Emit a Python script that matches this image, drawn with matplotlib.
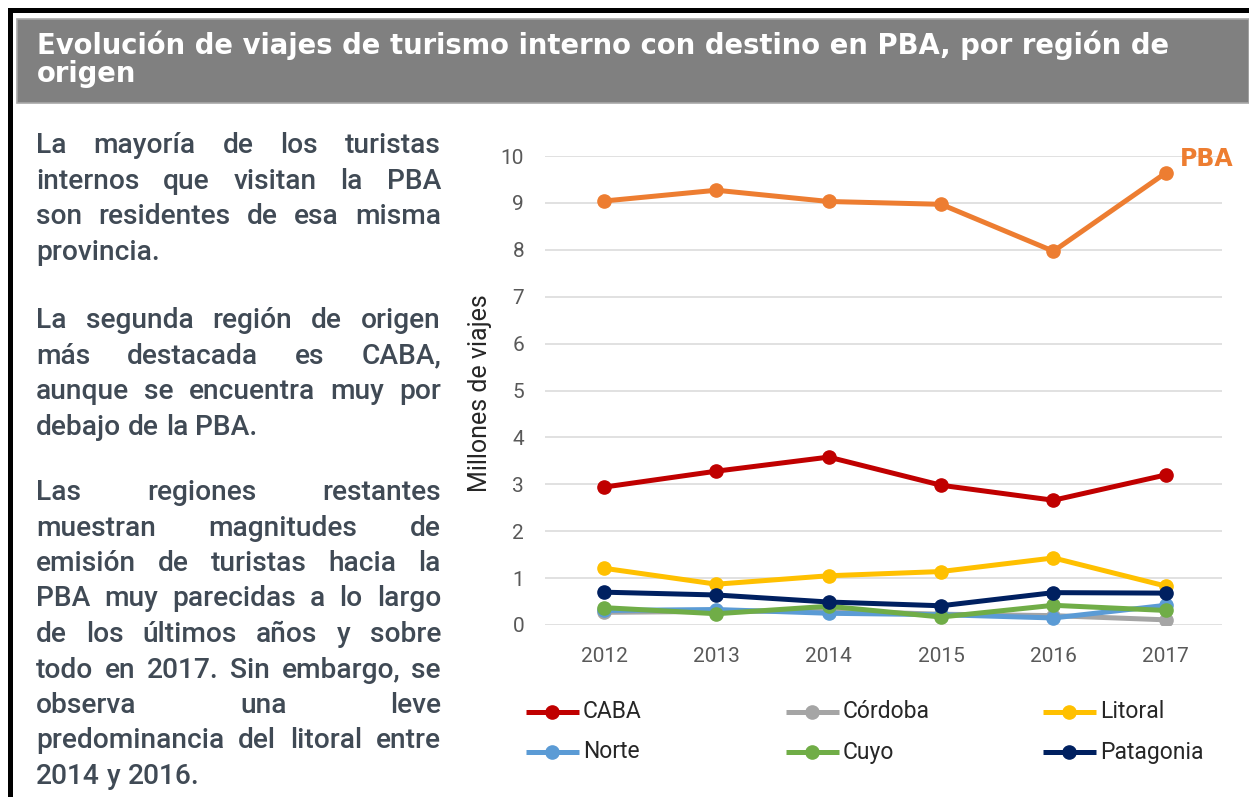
import matplotlib
matplotlib.use("Agg")
import matplotlib.pyplot as plt
from matplotlib.patches import Rectangle

# ---------------- data ----------------
years = ["2012", "2013", "2014", "2015", "2016", "2017"]
pba = [9.04, 9.27, 9.03, 8.97, 7.97, 9.64]
caba = [2.94, 3.28, 3.58, 2.98, 2.66, 3.20]
cordoba = [0.27, 0.29, 0.30, 0.23, 0.20, 0.11]
litoral = [1.21, 0.87, 1.05, 1.14, 1.43, 0.83]
norte = [0.31, 0.33, 0.25, 0.22, 0.15, 0.42]
cuyo = [0.37, 0.24, 0.40, 0.17, 0.42, 0.31]
patagonia = [0.70, 0.64, 0.49, 0.41, 0.69, 0.68]
yticks = list(range(0, 11))

series_names = ["CABA", "Córdoba", "Litoral", "Norte", "Cuyo", "Patagonia"]
series_vals = [caba, cordoba, litoral, norte, cuyo, patagonia]
series_cols = ["#C00000", "#A5A5A5", "#FFC000", "#5B9BD5", "#70AD47", "#002060"]
pba_color = "#ED7D31"

title = "Evolución de viajes de turismo interno con destino en PBA, por región de\norigen"
paragraphs = [
    ["La mayoría de los turistas",
     "internos que visitan la PBA",
     "son residentes de esa misma",
     "provincia."],
    ["La segunda región de origen",
     "más destacada es CABA,",
     "aunque se encuentra muy por",
     "debajo de la PBA."],
    ["Las regiones restantes",
     "muestran magnitudes de",
     "emisión de turistas hacia la",
     "PBA muy parecidas a lo largo",
     "de los últimos años y sobre",
     "todo en 2017. Sin embargo, se",
     "observa una leve",
     "predominancia del litoral entre",
     "2014 y 2016."],
]

# ---------------- figure ----------------
W, H = 1249, 797
fig = plt.figure(figsize=(W / 100, H / 100), dpi=100)
fig.patch.set_facecolor("white")

bg = fig.add_axes([0, 0, 1, 1])
bg.set_xlim(0, W)
bg.set_ylim(H, 0)
bg.axis("off")

# borders and title band
bg.add_patch(Rectangle((8, 8), W - 8, 4.5, color="black", lw=0))
bg.add_patch(Rectangle((8, 8), 5, H - 8, color="black", lw=0))
bg.add_patch(Rectangle((17, 19), W - 17, 84, facecolor="#808080",
                       edgecolor="#a8a8a8", lw=1.2))

renderer = fig.canvas.get_renderer()


def text_width(s, **kw):
    t = bg.text(0, 0, s, **kw)
    w = t.get_window_extent(renderer).width
    t.remove()
    return w


# title
tfont = dict(family="DejaVu Sans", weight="bold", color="white")
first_line = title.split("\n")[0]
tsize = 17 * 1138 / text_width(first_line, fontsize=17, **tfont)
for i, line in enumerate(title.split("\n")):
    bg.text(37, 54 + 28 * i, line, fontsize=tsize, va="baseline", ha="left", **tfont)

# body text, justified
bfont = dict(family="Roboto", weight="medium", color="#404a55")
bsize = 20 * 124 / text_width("provincia.", fontsize=20, **bfont)
L, R = 36, 441
space_w = text_width("a a", fontsize=bsize, **bfont) - 2 * text_width("a", fontsize=bsize, **bfont)
par_starts = [153, 328, 500]
lstep = 35.5
for p, lines in enumerate(paragraphs):
    for k, line in enumerate(lines):
        y = par_starts[p] + lstep * k
        words = line.split(" ")
        widths = [text_width(w, fontsize=bsize, **bfont) for w in words]
        last = (k == len(lines) - 1)
        if last or len(words) == 1:
            gap = space_w
        else:
            gap = (R - L - sum(widths)) / (len(words) - 1)
        x = L
        for w, wd in zip(words, widths):
            bg.text(x, y, w, fontsize=bsize, ha="left", va="baseline", **bfont)
            x += wd + gap

# ---------------- chart ----------------
ax_l, ax_r, ax_t, ax_b = 545, 1222, 156, 625
ax = fig.add_axes([ax_l / W, (H - ax_b) / H, (ax_r - ax_l) / W, (ax_b - ax_t) / H])
ax.set_facecolor("none")
x = list(range(len(years)))
for name, vals, col in zip(series_names, series_vals, series_cols):
    ax.plot(x, vals, color=col, lw=3.6, marker="o", ms=9.5, solid_capstyle="round",
            label=name, zorder=3)
ax.plot(x, pba, color=pba_color, lw=3.6, marker="o", ms=9.5, zorder=3)
ax.annotate("PBA", xy=(x[-1], pba[-1]), xytext=(14, 14), textcoords="offset pixels",
            ha="left", va="center", fontsize=17, fontweight="bold",
            family="DejaVu Sans", color=pba_color)

ax.set_xlim(-0.525, 5.5)
ax.set_ylim(0, 10)
ax.set_yticks(yticks)
ax.set_xticks(x)
ax.set_xticklabels(years)
ax.tick_params(axis="both", length=0, labelsize=15, labelcolor="#595959")
ax.tick_params(axis="y", pad=15)
ax.tick_params(axis="x", pad=16)
for lab in ax.get_xticklabels() + ax.get_yticklabels():
    lab.set_family("Roboto")
ax.grid(axis="y", color="#d9d9d9", lw=1.1, zorder=0)
ax.set_axisbelow(True)
for s in ax.spines.values():
    s.set_visible(False)
ax.set_ylabel("Millones de viajes", fontsize=18, family="Roboto", color="#262626")
ax.yaxis.set_label_coords((492 - ax_l) / (ax_r - ax_l), (625 - 393) / (ax_b - ax_t))

# ---------------- legend (manual, 3 columns x 2 rows) ----------------
col_x = [526, 786, 1043]
row_y = [712, 752]
handle_len = 53
for i, (name, col) in enumerate(zip(series_names, series_cols)):
    cx = col_x[i % 3]
    ry = row_y[i // 3]
    bg.plot([cx, cx + handle_len], [ry, ry], color=col, lw=3.6, solid_capstyle="butt")
    bg.plot([cx + handle_len / 2], [ry], marker="o", ms=9.5, color=col)
    bg.text(cx + handle_len + 4, ry, name, fontsize=16.5, family="Roboto",
            color="#262626", ha="left", va="center")

fig.savefig("out.png", dpi=100)
